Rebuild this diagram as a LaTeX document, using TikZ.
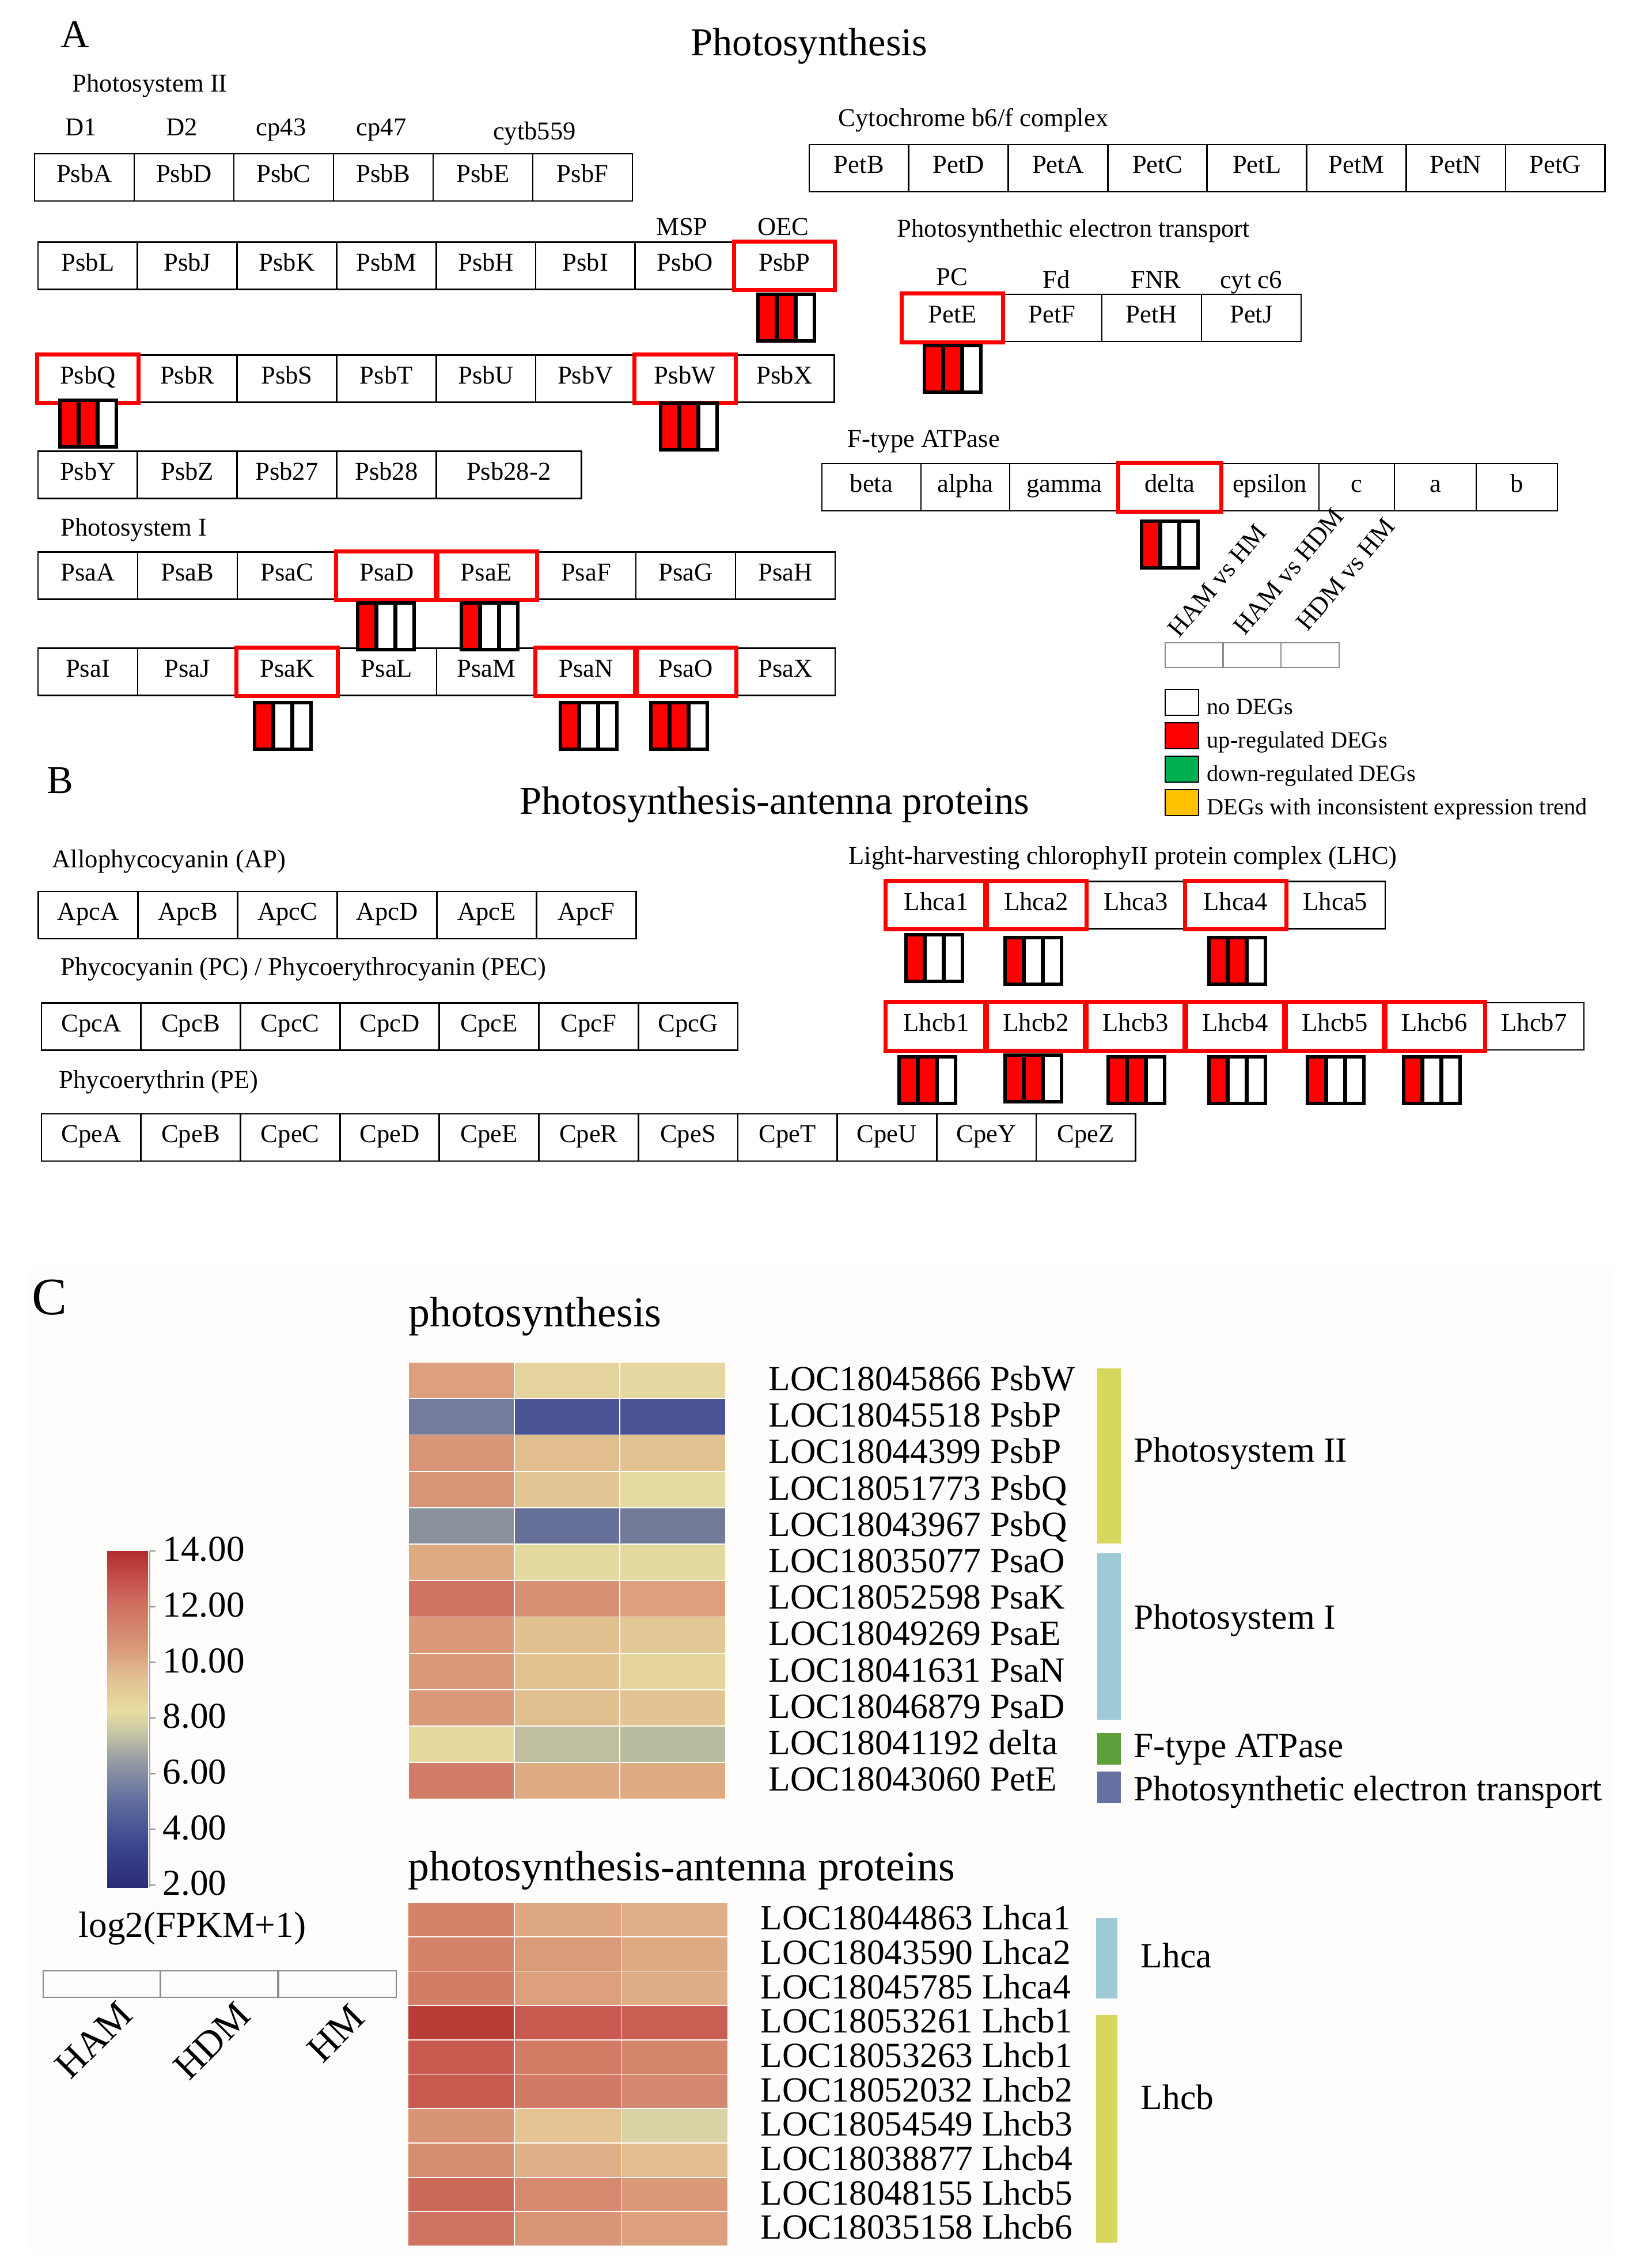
\documentclass[tikz,border=0pt]{standalone}
\usepackage{fontspec}
\setmainfont{Liberation Serif}
\usetikzlibrary{positioning}
\newcommand{\genefont}{\fontsize{12.7}{15}\selectfont}
\newcommand{\legfont}{\fontsize{11.5}{14}\selectfont}
\newcommand{\headfont}{\fontsize{19.5}{23}\selectfont}
\newcommand{\bigpanelfont}{\fontsize{26}{30}\selectfont}
\newcommand{\locfont}{\fontsize{17.5}{21}\selectfont}
\newcommand{\heatfont}{\fontsize{21}{25}\selectfont}
\newcommand{\tickfont}{\fontsize{18}{22}\selectfont}
\newcommand{\condfont}{\fontsize{19}{23}\selectfont}
\definecolor{upred}{HTML}{FF0000}
\definecolor{downgreen}{HTML}{00B050}
\definecolor{mixyellow}{HTML}{FFC000}
\definecolor{psIIbar}{HTML}{D7D760}
\definecolor{psIbar}{HTML}{9EC9D7}
\definecolor{atpbar}{HTML}{5EA03C}
\definecolor{petbar}{HTML}{6471A1}
\definecolor{paper}{HTML}{FEFDFB}
\definecolor{cbA}{HTML}{2B2A78}
\definecolor{cbB}{HTML}{3B4590}
\definecolor{cbC}{HTML}{5E6B9E}
\definecolor{cbD}{HTML}{959AA3}
\definecolor{cbE}{HTML}{C6C6A4}
\definecolor{cbF}{HTML}{E6DDA0}
\definecolor{cbG}{HTML}{E2BF90}
\definecolor{cbH}{HTML}{D99A7B}
\definecolor{cbI}{HTML}{CF7262}
\definecolor{cbJ}{HTML}{C4504A}
\definecolor{cbK}{HTML}{B22D2B}
\pgfdeclareverticalshading{fpkm}{100bp}{color(0bp)=(cbA); color(25bp)=(cbA);
  color(31.25bp)=(cbB); color(37.5bp)=(cbC); color(43.75bp)=(cbD);
  color(47.92bp)=(cbE); color(51.25bp)=(cbF); color(56.25bp)=(cbG);
  color(60.42bp)=(cbH); color(66.67bp)=(cbI); color(70.83bp)=(cbJ);
  color(75bp)=(cbK); color(100bp)=(cbK)}
\newcommand{\degbar}[4]{%
  \begin{scope}[shift={(#1)}]
    \fill[#2] (0,0) rectangle (3.27,8.1);
    \fill[#3] (3.27,0) rectangle (6.53,8.1);
    \fill[#4] (6.53,0) rectangle (9.8,8.1);
    \draw[degline] (0,0) rectangle (9.8,8.1) (3.27,0) -- (3.27,8.1) (6.53,0) -- (6.53,8.1);
  \end{scope}}

\begin{document}
\begin{tikzpicture}[x=1mm, y=-1mm,
  gene/.style={draw, line width=0.8pt, minimum height=8.2mm, inner sep=0pt, font=\genefont, text height=0.7em, text depth=0.2em},
  hit/.style={draw=upred, line width=2pt},
  tag/.style={inner sep=0pt, font=\genefont, text height=0.7em, text depth=0.2em, yshift=-0.65mm},
  head/.style={tag, font=\headfont, yshift=-0.6mm},
  legtag/.style={tag, font=\legfont, anchor=west},
  swatch/.style={draw, line width=0.8pt},
  degline/.style={line width=1.9pt},
  thincell/.style={draw=black!45, line width=0.8pt},
  cell/.style={draw=white, line width=0.5pt},
  loc/.style={inner sep=0pt, font=\locfont, anchor=west, text height=0.7em, text depth=0.2em, yshift=-0.9mm}]
\useasboundingbox (0,0) rectangle (283,393.8);

% A
\node[font=\headfont] (lblA) at (13.0,6.0) {A};
\node[head] (titleA) at (140.5,7.5) {Photosynthesis};
\node[tag, anchor=west] (psII) at (12.5,14.4) {Photosystem II};
\foreach \t/\x in {D1/14.1, D2/31.6, cp43/48.8, cp47/66.2}
  \node[tag] (sub\t) at (\x,22.0) {\t};
\node[tag] (subcyt) at (92.8,22.7) {cytb559};
\foreach \g [count=\i from 0] in {PsbA,PsbD,PsbC,PsbB,PsbE,PsbF}
  \node[gene, minimum width=17.3mm] (\g) at ({6+17.3*(\i+0.5)},30.8) {\g};
\node[tag] (msp) at (118.4,39.3) {MSP};
\node[tag] (oec) at (136.0,39.3) {OEC};
\foreach \g [count=\i from 0] in {PsbL,PsbJ,PsbK,PsbM,PsbH,PsbI,PsbO,PsbP}
  \node[gene, minimum width=17.28mm] (\g) at ({6.6+17.28*(\i+0.5)},46.15) {\g};
\foreach \g [count=\i from 0] in {PsbQ,PsbR,PsbS,PsbT,PsbU,PsbV,PsbW,PsbX}
  \node[gene, minimum width=17.28mm] (\g) at ({6.6+17.28*(\i+0.5)},65.75) {\g};
\foreach \g [count=\i from 0] in {PsbY,PsbZ,Psb27,Psb28}
  \node[gene, minimum width=17.28mm] (\g) at ({6.6+17.28*(\i+0.5)},82.45) {\g};
\node[gene, minimum width=25.2mm] (Psb28-2) at (88.32,82.45) {Psb28-2};
\node[tag, anchor=west] (psI) at (10.45,91.5) {Photosystem I};
\foreach \g [count=\i from 0] in {PsaA,PsaB,PsaC,PsaD,PsaE,PsaF,PsaG,PsaH}
  \node[gene, minimum width=17.3mm] (\g) at ({6.6+17.3*(\i+0.5)},99.95) {\g};
\foreach \g [count=\i from 0] in {PsaI,PsaJ,PsaK,PsaL,PsaM,PsaN,PsaO,PsaX}
  \node[gene, minimum width=17.3mm] (\g) at ({6.6+17.3*(\i+0.5)},116.65) {\g};

\node[tag, anchor=west] (cytb) at (145.5,20.4) {Cytochrome b6/f complex};
\foreach \g [count=\i from 0] in {PetB,PetD,PetA,PetC,PetL,PetM,PetN,PetG}
  \node[gene, minimum width=17.27mm] (\g) at ({140.5+17.27*(\i+0.5)},29.2) {\g};
\node[tag, anchor=west] (pet) at (155.7,39.6) {Photosynthethic electron transport};
\foreach \t/\x/\y [count=\i] in {PC/165.3/48.0, Fd/183.4/48.5, FNR/200.7/48.5, cyt c6/217.2/48.5}
  \node[tag] (carrier\i) at (\x,\y) {\t};
\foreach \g [count=\i from 0] in {PetE,PetF,PetH,PetJ}
  \node[gene, minimum width=17.3mm] (\g) at ({156.7+17.3*(\i+0.5)},55.2) {\g};
\node[tag, anchor=west] (atp) at (147.1,76.1) {F-type ATPase};
\foreach \g/\l/\r in {beta/142.7/159.9, alpha/159.9/175.3, gamma/175.3/194.3, delta/194.3/211.9,
    epsilon/211.9/229.0, c/229.0/242.1, a/242.1/256.3, b/256.3/270.4}
  \node[gene, minimum width={(\r-\l)*1mm}] (atp\g) at ({(\l+\r)/2},84.6) {\g};

% legend
\foreach \x in {202.3,212.3,222.4}
  \draw[thincell] (\x,111.6) rectangle +(10.1,4.3);
\node[font=\genefont, rotate=50, anchor=south west, inner sep=0pt] (cmp1) at (204.8,111.0) {HAM vs HM};
\node[font=\genefont, rotate=50, anchor=south west, inner sep=0pt] (cmp2) at (216.2,110.6) {HAM vs HDM};
\node[font=\genefont, rotate=50, anchor=south west, inner sep=0pt] (cmp3) at (227.1,109.9) {HDM vs HM};
\foreach \f/\t [count=\i from 0] in {white/no DEGs, upred/up-regulated DEGs,
    downgreen/down-regulated DEGs, mixyellow/DEGs with inconsistent expression trend}{
  \draw[swatch, fill=\f] (202.3,{119.7+5.8*\i}) rectangle +(5.8,4.5);
  \node[legtag] (leg\i) at (209.5,{122.5+5.8*\i}) {\t};
}

% B
\node[font=\headfont] (lblB) at (10.4,135.5) {B};
\node[head] (titleB) at (134.5,139.2) {Photosynthesis-antenna proteins};
\node[tag, anchor=west] (ap) at (9.0,149.1) {Allophycocyanin (AP)};
\foreach \g [count=\i from 0] in {ApcA,ApcB,ApcC,ApcD,ApcE,ApcF}
  \node[gene, minimum width=17.3mm] (\g) at ({6.66+17.3*(\i+0.5)},158.9) {\g};
\node[tag, anchor=west] (pc) at (10.45,167.8) {Phycocyanin (PC) / Phycoerythrocyanin (PEC)};
\foreach \g [count=\i from 0] in {CpcA,CpcB,CpcC,CpcD,CpcE,CpcF,CpcG}
  \node[gene, minimum width=17.27mm] (\g) at ({7.2+17.27*(\i+0.5)},178.25) {\g};
\node[tag, anchor=west] (pe) at (10.2,187.4) {Phycoerythrin (PE)};
\foreach \g [count=\i from 0] in {CpeA,CpeB,CpeC,CpeD,CpeE,CpeR,CpeS,CpeT,CpeU,CpeY,CpeZ}
  \node[gene, minimum width=17.27mm] (\g) at ({7.2+17.27*(\i+0.5)},197.5) {\g};
\node[tag, anchor=west] (lhc) at (147.3,148.5) {Light-harvesting chlorophyII protein complex (LHC)};
\foreach \g [count=\i from 0] in {Lhca1,Lhca2,Lhca3,Lhca4,Lhca5}
  \node[gene, minimum width=17.32mm] (\g) at ({153.9+17.32*(\i+0.5)},157.15) {\g};
\foreach \g [count=\i from 0] in {Lhcb1,Lhcb2,Lhcb3,Lhcb4,Lhcb5,Lhcb6,Lhcb7}
  \node[gene, minimum width=17.3mm] (\g) at ({153.9+17.3*(\i+0.5)},178.2) {\g};

\foreach \g in {PsbP,PsbQ,PsbW,PetE,PsaD,PsaE,PsaK,PsaN,PsaO,atpdelta,
    Lhca1,Lhca2,Lhca4,Lhcb1,Lhcb2,Lhcb3,Lhcb4,Lhcb5,Lhcb6}
  \draw[hit] (\g.south west) rectangle (\g.north east);

\degbar{131.6,51.1}{upred}{upred}{white}
\degbar{10.4,69.5}{upred}{upred}{white}
\degbar{114.7,70.0}{upred}{upred}{white}
\degbar{160.5,60.0}{upred}{upred}{white}
\degbar{62.1,104.7}{upred}{white}{white}
\degbar{80.1,104.7}{upred}{white}{white}
\degbar{44.2,122.0}{upred}{white}{white}
\degbar{97.3,122.0}{upred}{white}{white}
\degbar{113.0,122.0}{upred}{upred}{white}
\degbar{198.2,90.5}{upred}{white}{white}
\degbar{157.3,162.3}{upred}{white}{white}
\degbar{174.5,162.8}{upred}{white}{white}
\degbar{209.9,162.8}{upred}{upred}{white}
\degbar{156.1,183.5}{upred}{upred}{white}
\degbar{174.5,183.2}{upred}{upred}{white}
\degbar{192.4,183.5}{upred}{upred}{white}
\degbar{209.9,183.5}{upred}{white}{white}
\degbar{227.0,183.5}{upred}{white}{white}
\degbar{243.7,183.5}{upred}{white}{white}

% C
\fill[paper] (5.2,220) rectangle (280,391.3);
\node[font=\bigpanelfont] (lblC) at (8.6,225.3) {C};
\node[loc, font=\heatfont, yshift=-0.2mm] (hmA) at (70.9,228.4) {photosynthesis};
\foreach \a/\b/\c/\t [count=\r from 0] in {DCA07E/E5D39E/E6D7A0/LOC18045866 PsbW,
    757B9A/4A5494/4A5494/LOC18045518 PsbP, D89577/E2BE8F/E2C291/LOC18044399 PsbP,
    D89577/E3C493/E5DA9F/LOC18051773 PsbQ, 8A919A/666F97/737A98/LOC18043967 PsbQ,
    DEAA82/E4D99F/E4D99F/LOC18035077 PsaO, CF7462/D78F74/DCA07E/LOC18052598 PsaK,
    DA9A79/E2C190/E3C794/LOC18049269 PsaE, DA9A79/E3C390/E5D59D/LOC18041631 PsaN,
    D99878/E2BF8E/E2C391/LOC18046879 PsaD, E5D9A0/C0BEA0/BABCA0/LOC18041192 delta,
    D27D67/DEAB83/DFAA82/LOC18043060 PetE}{
  \definecolor{hA}{HTML}{\a}\definecolor{hB}{HTML}{\b}\definecolor{hC}{HTML}{\c}
  \filldraw[cell, fill=hA] (70.9,{236.5+6.32*\r}) rectangle +(18.37,6.32);
  \filldraw[cell, fill=hB] (89.27,{236.5+6.32*\r}) rectangle +(18.37,6.32);
  \filldraw[cell, fill=hC] (107.63,{236.5+6.32*\r}) rectangle +(18.37,6.32);
  \node[loc] (ps\r) at (133.4,{239.66+6.32*\r}) {\t};
}
\fill[psIIbar] (190.5,237.6) rectangle (194.6,268.0);
\fill[psIbar] (190.5,269.7) rectangle (194.6,298.6);
\fill[atpbar] (190.5,300.9) rectangle (194.6,306.4);
\fill[petbar] (190.5,307.6) rectangle (194.6,313.1);
\node[loc] (grpII) at (196.8,252.1) {Photosystem II};
\node[loc] (grpI) at (196.8,281.1) {Photosystem I};
\node[loc] (grpatp) at (196.8,303.4) {F-type ATPase};
\node[loc] (grppet) at (196.8,310.9) {Photosynthetic electron transport};

\node[loc, font=\heatfont, yshift=-0.2mm] (hmB) at (70.8,324.6) {photosynthesis-antenna proteins};
\foreach \a/\b/\c/\t [count=\r from 0] in {D4826A/DEA882/DFAF87/LOC18044863 Lhca1,
    D4826A/DA9B79/DEAA82/LOC18043590 Lhca2, D27E67/DCA07D/DFAE86/LOC18045785 Lhca4,
    BA3D35/C85A4F/C95E52/LOC18053261 Lhcb1, C85A4F/D27C66/D4866C/LOC18053263 Lhcb1,
    C85A4F/D27A65/D48870/LOC18052032 Lhcb2, D89576/E3C492/D8D2A4/LOC18054549 Lhcb3,
    D68D71/DFAF88/E2BE8F/LOC18038877 Lhcb4, CC6A5A/D58A6F/DA9977/LOC18048155 Lhcb5,
    CF7461/D99676/DCA07D/LOC18035158 Lhcb6}{
  \definecolor{hA}{HTML}{\a}\definecolor{hB}{HTML}{\b}\definecolor{hC}{HTML}{\c}
  \filldraw[cell, fill=hA] (70.8,{330.3+5.97*\r}) rectangle +(18.53,5.97);
  \filldraw[cell, fill=hB] (89.33,{330.3+5.97*\r}) rectangle +(18.53,5.97);
  \filldraw[cell, fill=hC] (107.86,{330.3+5.97*\r}) rectangle +(18.53,5.97);
  \node[loc] (lh\r) at (132.0,{333.28+5.97*\r}) {\t};
}
\fill[psIbar] (190.3,333.0) rectangle (194.0,347.0);
\fill[psIIbar] (190.3,349.9) rectangle (194.0,389.4);
\node[loc] (grplhca) at (198.0,339.9) {Lhca};
\node[loc] (grplhcb) at (198.0,364.5) {Lhcb};

% colour key
\shade[shading=fpkm] (18.6,269.3) rectangle (25.7,327.7);
\draw[black!35, line width=0.6pt] (26.0,269.3) -- (26.0,327.7);
\foreach \v in {14,12,...,2}{
  \draw[black!45, line width=0.6pt] (26.0,{327.3-(\v-2)*4.833}) -- (27.0,{327.3-(\v-2)*4.833});
  \node[loc, font=\tickfont] (tick\v) at (28.2,{327.3-(\v-2)*4.833}) {\v.00};
}
\node[loc, font=\tickfont, anchor=center] (fpkm) at (33.4,334.6) {log2(FPKM+1)};
\foreach \x in {7.5,27.8,48.4}
  \draw[thincell] (\x,342.2) rectangle +(20.4,4.6);
\node[font=\condfont, rotate=45, anchor=north east, inner sep=0pt] (ham) at (20.2,347.0) {HAM};
\node[font=\condfont, rotate=45, anchor=north east, inner sep=0pt] (hdm) at (40.8,347.2) {HDM};
\node[font=\condfont, rotate=45, anchor=north east, inner sep=0pt] (hm) at (60.6,347.6) {HM};
\end{tikzpicture}
\end{document}
